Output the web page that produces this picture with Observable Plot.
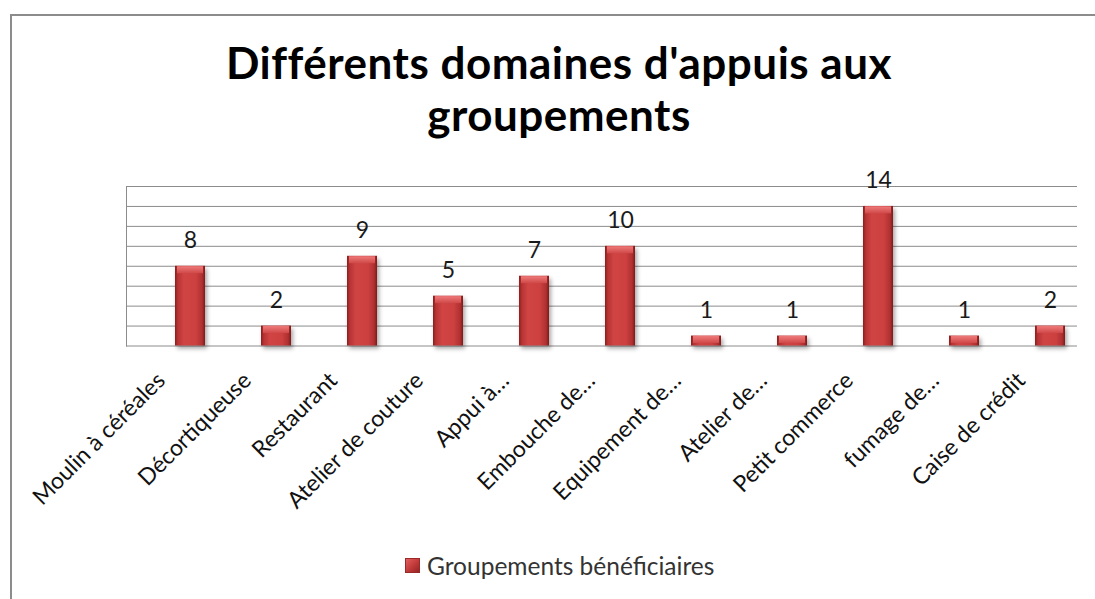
<!DOCTYPE html>
<html>
<head>
<meta charset="utf-8">
<script src="https://cdn.jsdelivr.net/npm/d3@7"></script>
<script src="https://cdn.jsdelivr.net/npm/@observablehq/plot@0.6"></script>
<style>
  html, body { margin: 0; padding: 0; background: #fff; }
  #wrap { position: relative; width: 1095px; height: 599px; overflow: hidden; font-family: Lato, "Open Sans", sans-serif; }
  #border { position: absolute; left: 10px; top: 14px; right: -10px; bottom: -10px; border-top: 2px solid #8c8c8c; border-left: 2px solid #8c8c8c; }
  .title { position: absolute; left: 0; width: 1118px; text-align: center; font-weight: 700; font-size: 44px; letter-spacing: 0.5px; line-height: 44px; height: 44px; color: #000; white-space: nowrap; }
  #t1 { top: 40px; }
  #t2 { top: 92px; }
  #chart { position: absolute; left: 0; top: 0; }
  #legend { position: absolute; left: 405px; top: 551px; display: flex; align-items: center; font-size: 24.5px; color: #333; }
  #legend .sw { width: 15px; height: 15px; margin-right: 7px; background: linear-gradient(135deg, #e86464 0%, #c43c3c 50%, #8e2020 100%); box-shadow: inset 0 0 0 1px #9a2a2a; }
</style>
</head>
<body>
<div id="wrap">
  <div id="border"></div>
  <div id="chart"></div>
  <div class="title" id="t1">Différents domaines d'appuis aux</div>
  <div class="title" id="t2">groupements</div>
  <div id="legend"><span class="sw"></span><span id="legtxt"></span></div>
</div>
<script>
const categories = ["Moulin à céréales", "Décortiqueuse", "Restaurant", "Atelier de couture", "Appui à…", "Embouche de…", "Equipement de…", "Atelier de…", "Petit commerce", "fumage de…", "Caise de crédit"];
const values = [8, 2, 9, 5, 7, 10, 1, 1, 14, 1, 2];
const yTicks = [0, 2, 4, 6, 8, 10, 12, 14, 16];
const seriesName = "Groupements bénéficiaires";

document.getElementById("legtxt").textContent = seriesName;

const data = categories.map((c, i) => ({cat: c, value: values[i]}));

const chart = Plot.plot({
  width: 1095,
  height: 599,
  marginTop: 186,
  marginBottom: 253.5,
  marginLeft: 126,
  marginRight: 18,
  style: {fontFamily: "Lato, 'Open Sans', sans-serif", background: "transparent"},
  x: {domain: categories, paddingInner: 0.6526, paddingOuter: 0.333, align: 0.8, axis: null},
  y: {domain: [0, 16], axis: null},
  marks: [
    Plot.gridY(yTicks, {stroke: "#8c8c8c", strokeOpacity: 1, strokeWidth: 1}),
    Plot.frame({anchor: "left", stroke: "#8c8c8c"}),
    Plot.barY(data, {x: "cat", y: "value", fill: "url(#barGrad)"}),
    Plot.barY(data, {x: "cat", y1: d => d.value, y2: d => d.value - 0.75, fill: "url(#topGrad)", insetLeft: 2, insetRight: 2, insetTop: 0.5}),
    Plot.text(data, {x: "cat", y: "value", text: d => String(d.value), lineAnchor: "bottom", dy: -18, fontSize: 23, fill: "#1a1a1a"}),
    Plot.text(categories, {x: d => d, frameAnchor: "bottom", text: d => d, rotate: -45, textAnchor: "end", dx: -24, dy: 36, fontSize: 23, fill: "#111"})
  ]
});

document.getElementById("chart").appendChild(chart);

const svg = d3.select(chart);
const defs = svg.insert("defs", ":first-child");
const g1 = defs.append("linearGradient").attr("id", "barGrad").attr("x1", 0).attr("x2", 1).attr("y1", 0).attr("y2", 0);
[[0, "#8a1e1e"], [0.1, "#b83434"], [0.3, "#d04444"], [0.7, "#cc4040"], [0.9, "#b03030"], [1, "#7e1a1a"]].forEach(([o, c]) => g1.append("stop").attr("offset", o).attr("stop-color", c));
const g2 = defs.append("linearGradient").attr("id", "topGrad").attr("x1", 0).attr("x2", 0).attr("y1", 0).attr("y2", 1);
[[0, "#ee7a7a"], [1, "#d04848"]].forEach(([o, c]) => g2.append("stop").attr("offset", o).attr("stop-color", c));
svg.selectAll("g[aria-label='bar']").filter((d, i) => i === 0).style("filter", "drop-shadow(2px 3px 2px rgba(0,0,0,0.35))");
</script>
</body>
</html>
